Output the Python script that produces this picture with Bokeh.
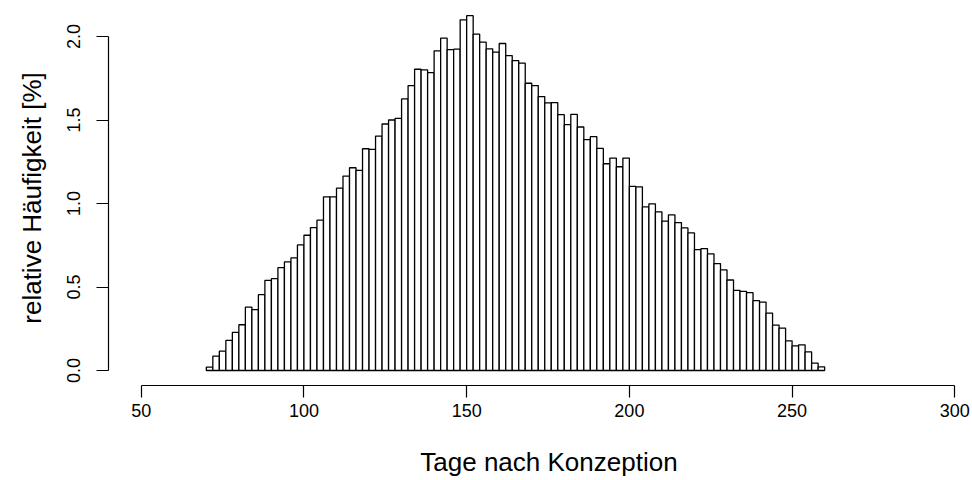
from bokeh.plotting import figure
from bokeh.models import FixedTicker, Range1d
from bokeh.embed import file_html
from bokeh.resources import INLINE

# Histogram: bins of width 2 days from 70 to 260
bin_left = list(range(70, 260, 2))
bin_right = [b + 2 for b in bin_left]
rel_freq = [
    0.020, 0.086, 0.116, 0.180, 0.228, 0.274, 0.380, 0.364, 0.454, 0.540,
    0.550, 0.616, 0.650, 0.674, 0.752, 0.810, 0.856, 0.900, 1.040, 1.040,
    1.092, 1.164, 1.214, 1.198, 1.328, 1.324, 1.404, 1.476, 1.500, 1.510,
    1.626, 1.706, 1.804, 1.800, 1.784, 1.914, 1.990, 1.922, 1.924, 2.100,
    2.125, 2.014, 1.966, 1.926, 1.906, 1.958, 1.886, 1.856, 1.840, 1.720,
    1.706, 1.640, 1.602, 1.604, 1.532, 1.472, 1.534, 1.458, 1.382, 1.400,
    1.330, 1.238, 1.272, 1.220, 1.272, 1.102, 1.100, 0.980, 0.998, 0.950,
    0.894, 0.932, 0.886, 0.854, 0.824, 0.724, 0.730, 0.698, 0.640, 0.602,
    0.542, 0.480, 0.474, 0.466, 0.418, 0.410, 0.344, 0.272, 0.254, 0.178,
    0.148, 0.154, 0.112, 0.044, 0.022,
]
x_ticks = [50, 100, 150, 200, 250, 300]
y_ticks = [0.0, 0.5, 1.0, 1.5, 2.0]
y_tick_labels = {0.0: "0.0", 0.5: "0.5", 1.0: "1.0", 1.5: "1.5", 2.0: "2.0"}
x_title = "Tage nach Konzeption"
y_title = "relative Häufigkeit [%]"

FONT = "Liberation Sans"
W, H = 970, 480

p = figure(
    width=W, height=H,
    output_backend="svg", toolbar_location=None,
    x_range=Range1d(39.94, 301.75), y_range=Range1d(-0.0898, 2.1557),
    min_border_left=108, min_border_right=10, min_border_top=10,
    min_border_bottom=95,
)
p.outline_line_color = None
p.grid.grid_line_color = None
p.background_fill_color = "white"
p.border_fill_color = "white"

p.quad(left=bin_left, right=bin_right, bottom=0, top=rel_freq,
       fill_color="white", line_color="black", line_width=1.3)

for ax in (p.xaxis[0], p.yaxis[0]):
    ax.axis_line_color = "black"
    ax.axis_line_width = 1.2
    ax.major_tick_line_color = "black"
    ax.major_tick_line_width = 1.2
    ax.major_tick_out = 12
    ax.major_tick_in = 0
    ax.minor_tick_line_color = None
    ax.major_label_text_font = FONT
    ax.major_label_text_font_size = "18px"
    ax.major_label_text_color = "black"
    ax.axis_label_text_font = FONT
    ax.axis_label_text_font_size = "26px"
    ax.axis_label_text_font_style = "normal"
    ax.axis_label_text_color = "black"

xa = p.xaxis[0]
xa.ticker = FixedTicker(ticks=x_ticks)
xa.bounds = (50, 300)
xa.major_label_standoff = 6
# leading no-break spaces move the centred title right, to the R plot-region centre
xa.axis_label = "\u00a0" * 4 + x_title
xa.axis_label_standoff = 27

ya = p.yaxis[0]
ya.ticker = FixedTicker(ticks=y_ticks)
ya.major_label_overrides = y_tick_labels
ya.bounds = (0, 2)
ya.major_label_orientation = "vertical"
ya.major_label_standoff = 16
ya.axis_label = y_title
ya.axis_label_standoff = 18

open("out.html", "w").write(file_html(p, INLINE))
